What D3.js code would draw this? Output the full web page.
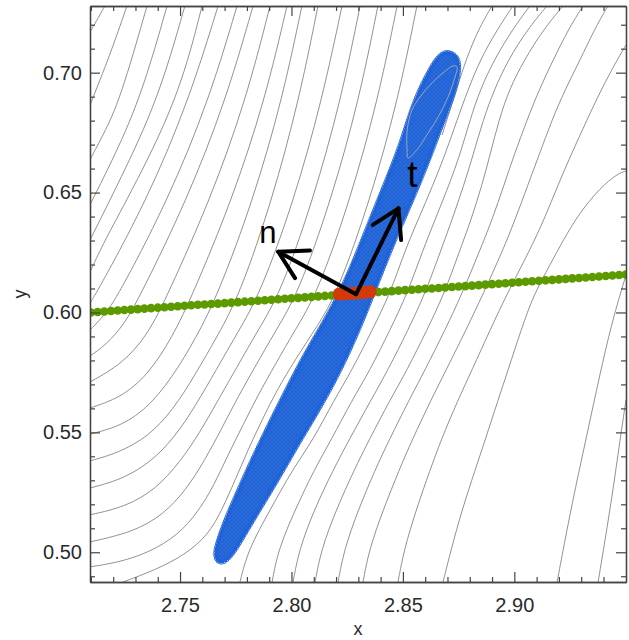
<!DOCTYPE html>
<html><head><meta charset="utf-8">
<script src="https://cdn.jsdelivr.net/npm/d3@7"></script>
<style>body{margin:0;background:#fff}svg{display:block}</style>
</head><body>
<svg id="chart" width="629" height="640"></svg>
<script>
// ---------------- data ----------------
const xMajor = [2.75, 2.80, 2.85, 2.90];
const xTickLabels = ["2.75", "2.80", "2.85", "2.90"];
const yMajor = [0.50, 0.55, 0.60, 0.65, 0.70];
const yTickLabels = ["0.50", "0.55", "0.60", "0.65", "0.70"];
const xMinor = [2.71,2.72,2.73,2.74,2.76,2.77,2.78,2.79,2.81,2.82,2.83,2.84,2.86,2.87,2.88,2.89,2.91,2.92,2.93,2.94];
const yMinor = [0.49,0.51,0.52,0.53,0.54,0.56,0.57,0.58,0.59,0.61,0.62,0.63,0.64,0.66,0.67,0.68,0.69,0.71,0.72];

// contour lines left of the band, [x, y] pairs
const contoursLeft = [
  [[2.7163,0.7279],[2.7123,0.7212],[2.7096,0.7170]],
  [[2.7262,0.7279],[2.7186,0.7074],[2.7096,0.6865]],
  [[2.7352,0.7279],[2.7231,0.6886],[2.7155,0.6740],[2.7096,0.6637]],
  [[2.7442,0.7279],[2.7321,0.6886],[2.7186,0.6615],[2.7096,0.6449]],
  [[2.7522,0.7279],[2.7401,0.6886],[2.7231,0.6553],[2.7096,0.6302]],
  [[2.7599,0.7279],[2.7491,0.6886],[2.7262,0.6469],[2.7163,0.6302],[2.7096,0.6169]],
  [[2.7671,0.7279],[2.7540,0.6886],[2.7352,0.6469],[2.7123,0.6077],[2.7096,0.6040]],
  [[2.7756,0.7279],[2.7630,0.6886],[2.7446,0.6469],[2.7226,0.6077],[2.7163,0.5990],[2.7096,0.5927]],
  [[2.7828,0.7279],[2.7706,0.6886],[2.7531,0.6469],[2.7325,0.6077],[2.7249,0.5948],[2.7163,0.5861],[2.7096,0.5819]],
  [[2.7904,0.7279],[2.7796,0.6886],[2.7635,0.6469],[2.7446,0.6077],[2.7356,0.5907],[2.7240,0.5785],[2.7096,0.5710]],
  [[2.7980,0.7279],[2.7881,0.6886],[2.7733,0.6469],[2.7558,0.6077],[2.7464,0.5894],[2.7356,0.5739],[2.7231,0.5643],[2.7096,0.5602]],
  [[2.8047,0.7279],[2.7958,0.6886],[2.7828,0.6469],[2.7671,0.6077],[2.7572,0.5894],[2.7464,0.5727],[2.7347,0.5594],[2.7222,0.5522],[2.7096,0.5493]],
  [[2.8119,0.7279],[2.8034,0.6886],[2.7913,0.6469],[2.7769,0.6077],[2.7671,0.5907],[2.7567,0.5739],[2.7469,0.5594],[2.7356,0.5481],[2.7222,0.5414],[2.7096,0.5381]],
  [[2.8227,0.7279],[2.8137,0.6886],[2.8012,0.6469],[2.7859,0.6077],[2.7760,0.5919],[2.7662,0.5760],[2.7572,0.5615],[2.7478,0.5481],[2.7365,0.5372],[2.7231,0.5301],[2.7096,0.5268]],
  [[2.8308,0.7279],[2.8222,0.6886],[2.8097,0.6469],[2.7949,0.6077],[2.7850,0.5927],[2.7756,0.5773],[2.7671,0.5635],[2.7590,0.5501],[2.7500,0.5376],[2.7388,0.5260],[2.7253,0.5189],[2.7096,0.5156]],
  [[2.8388,0.7279],[2.8303,0.6886],[2.8178,0.6469],[2.8029,0.6077],[2.7931,0.5927],[2.7841,0.5781],[2.7760,0.5648],[2.7688,0.5518],[2.7612,0.5385],[2.7527,0.5260],[2.7424,0.5156],[2.7289,0.5084],[2.7096,0.5043]],
  [[2.8474,0.7279],[2.8388,0.6886],[2.8263,0.6469],[2.8115,0.6077],[2.8016,0.5927],[2.7926,0.5781],[2.7850,0.5656],[2.7783,0.5531],[2.7715,0.5406],[2.7653,0.5280],[2.7581,0.5168],[2.7491,0.5072],[2.7365,0.5001],[2.7231,0.4959],[2.7096,0.4939]],
  [[2.8563,0.7279],[2.8478,0.6886],[2.8353,0.6469],[2.8204,0.6077],[2.8119,0.5948],[2.8016,0.5802],[2.7935,0.5677],[2.7868,0.5552],[2.7805,0.5427],[2.7747,0.5301],[2.7688,0.5176],[2.7626,0.5072],[2.7522,0.4989],[2.7388,0.4926],[2.7244,0.4876]]
];

// contour lines right of the band: x positions at shared y levels
const rightLevels = [0.4876,0.5010,0.5176,0.5343,0.5468,0.5635,0.5760,0.5927,0.6077,0.6261,0.6386,0.6532,0.6657,0.6803,0.6928,0.7053,0.7178,0.7279];
const rightX = [
  [2.7769,2.7805,2.7904,2.8003,2.8097,2.8191,2.8272,2.8362,2.8442,2.8510,2.8568,2.8635,2.8689,2.8743,2.8792,2.8846,2.8922,2.8994],
  [2.7913,2.7940,2.8016,2.8101,2.8178,2.8272,2.8353,2.8442,2.8519,2.8590,2.8644,2.8707,2.8756,2.8801,2.8846,2.8909,2.8990,2.9070],
  [2.8007,2.8034,2.8101,2.8187,2.8258,2.8357,2.8433,2.8523,2.8599,2.8671,2.8720,2.8774,2.8815,2.8860,2.8909,2.8972,2.9057,2.9147],
  [2.8106,2.8133,2.8200,2.8281,2.8348,2.8442,2.8519,2.8608,2.8685,2.8756,2.8806,2.8855,2.8891,2.8931,2.8976,2.9044,2.9129,2.9219],
  [2.8209,2.8236,2.8299,2.8375,2.8438,2.8528,2.8599,2.8689,2.8765,2.8846,2.8900,2.8954,2.8999,2.9057,2.9111,2.9174,2.9241,2.9308],
  [2.8321,2.8348,2.8411,2.8483,2.8541,2.8626,2.8694,2.8783,2.8860,2.8949,2.9003,2.9061,2.9111,2.9169,2.9227,2.9295,2.9358,2.9420]
];
const contoursOther = [
  [[2.8478,0.4876],[2.8505,0.5010],[2.8559,0.5176],[2.8622,0.5343],[2.8671,0.5468],[2.8747,0.5635],[2.8810,0.5760],[2.8891,0.5927],[2.8967,0.6077],[2.9070,0.6261],[2.9133,0.6386],[2.9196,0.6532],[2.9254,0.6657],[2.9326,0.6803],[2.9389,0.6928],[2.9461,0.7053],[2.9501,0.7115]],
  [[2.8680,0.4876],[2.8716,0.5010],[2.8765,0.5176],[2.8824,0.5343],[2.8869,0.5468],[2.8927,0.5635],[2.8972,0.5760],[2.9030,0.5927],[2.9088,0.6077],[2.9160,0.6198],[2.9219,0.6302],[2.9295,0.6419],[2.9385,0.6519],[2.9461,0.6578],[2.9501,0.6590]],
  [[2.9192,0.4876],[2.9227,0.5051],[2.9281,0.5301],[2.9340,0.5552],[2.9398,0.5802],[2.9447,0.5990],[2.9501,0.6156]],
  [[2.9376,0.4876],[2.9407,0.5051],[2.9443,0.5260],[2.9474,0.5468],[2.9501,0.5635]],
  [[2.8900,0.7279],[2.8837,0.7178],[2.8783,0.7053],[2.8747,0.6949],[2.8711,0.6844],[2.8676,0.6740]]
];

const minimumContour = [
  [2.8523,0.6644],[2.8563,0.6678],[2.8613,0.6748],[2.8658,0.6815],[2.8703,0.6899],[2.8734,0.6982],
  [2.8743,0.7024],[2.8725,0.7028],[2.8680,0.6999],[2.8631,0.6957],[2.8577,0.6899],[2.8541,0.6844],
  [2.8519,0.6761],[2.8519,0.6678]
];

const bandOutline = [
  [2.8711,0.7086],[2.8747,0.7061],[2.8752,0.7011],[2.8734,0.6936],[2.8703,0.6853],[2.8667,0.6769],
  [2.8622,0.6657],[2.8568,0.6532],[2.8510,0.6407],[2.8451,0.6281],[2.8397,0.6156],[2.8353,0.6052],
  [2.8308,0.5948],[2.8249,0.5823],[2.8182,0.5698],[2.8106,0.5573],[2.8029,0.5456],[2.7953,0.5331],
  [2.7872,0.5206],[2.7796,0.5089],[2.7747,0.5010],[2.7706,0.4964],[2.7675,0.4955],[2.7657,0.4985],
  [2.7666,0.5030],[2.7702,0.5126],[2.7751,0.5230],[2.7805,0.5343],[2.7868,0.5468],[2.7935,0.5594],
  [2.8003,0.5719],[2.8070,0.5836],[2.8133,0.5935],[2.8191,0.6031],[2.8240,0.6123],[2.8285,0.6219],
  [2.8330,0.6323],[2.8375,0.6428],[2.8424,0.6540],[2.8469,0.6644],[2.8505,0.6740],[2.8536,0.6832],
  [2.8572,0.6919],[2.8613,0.6995],[2.8649,0.7053],[2.8680,0.7082]
];

const greenX = [2.710,2.713,2.716,2.719,2.722,2.725,2.728,2.731,2.734,2.737,2.740,2.743,2.746,2.749,2.752,2.755,2.758,2.761,2.764,2.767,2.770,2.773,2.776,2.779,2.782,2.785,2.788,2.791,2.794,2.797,2.800,2.803,2.806,2.809,2.812,2.815,2.818,2.821,2.824,2.827,2.830,2.833,2.836,2.839,2.842,2.845,2.848,2.851,2.854,2.857,2.860,2.863,2.866,2.869,2.872,2.875,2.878,2.881,2.884,2.887,2.890,2.893,2.896,2.899,2.902,2.905,2.908,2.911,2.914,2.917,2.920,2.923,2.926,2.929,2.932,2.935,2.938,2.941,2.944,2.947,2.950];
const greenY = [0.6000,0.6002,0.6004,0.6006,0.6008,0.6010,0.6012,0.6014,0.6016,0.6018,0.6020,0.6022,0.6024,0.6026,0.6028,0.6030,0.6032,0.6033,0.6035,0.6037,0.6039,0.6041,0.6043,0.6045,0.6047,0.6049,0.6051,0.6053,0.6055,0.6057,0.6059,0.6061,0.6063,0.6065,0.6067,0.6069,0.6071,0.6073,0.6075,0.6077,0.6079,0.6081,0.6083,0.6085,0.6087,0.6089,0.6091,0.6093,0.6095,0.6097,0.6099,0.6100,0.6102,0.6104,0.6106,0.6108,0.6110,0.6112,0.6114,0.6116,0.6118,0.6120,0.6122,0.6124,0.6126,0.6128,0.6130,0.6132,0.6134,0.6136,0.6138,0.6140,0.6142,0.6144,0.6146,0.6148,0.6150,0.6152,0.6154,0.6156,0.6158];

const redX = [2.8215, 2.8243, 2.8271, 2.8299, 2.8327, 2.8353];
const redY = [0.6077, 0.6078, 0.6080, 0.6082, 0.6084, 0.6086];

const arrowOrigin = [2.8290, 0.6076];
const arrowTips = [[2.7941, 0.6253], [2.8480, 0.6434]];
const arrowBarbs = [
  [[2.8083, 0.6258], [2.8016, 0.6143]],
  [[2.8365, 0.6365], [2.8492, 0.6302]]
];
const arrowLabels = ["n", "t"];
const arrowLabelPos = [[2.7855, 0.6290], [2.8519, 0.6523]];
const arrowLabelSize = [31, 37];

// ---------------- chart ----------------
const m = {left: 90, right: 626, top: 6, bottom: 582};
const x = d3.scaleLinear().domain([2.7096, 2.9501]).range([m.left, m.right]);
const y = d3.scaleLinear().domain([0.4876, 0.7278]).range([m.bottom, m.top]);

const svg = d3.select("#chart");
const defs = svg.append("defs");
defs.append("clipPath").attr("id", "clip")
  .append("rect").attr("x", m.left).attr("y", m.top)
  .attr("width", m.right - m.left).attr("height", m.bottom - m.top);
const pat = defs.append("pattern").attr("id", "dots").attr("patternUnits", "userSpaceOnUse")
  .attr("width", 4).attr("height", 4);
pat.append("rect").attr("width", 4).attr("height", 4).attr("fill", "#1a5ed3");
pat.append("circle").attr("cx", 2).attr("cy", 2).attr("r", 1.5).attr("fill", "none")
  .attr("stroke", "#3b78e2").attr("stroke-width", 0.6);

const plot = svg.append("g").attr("clip-path", "url(#clip)");

const line = d3.line().x(d => x(d[0])).y(d => y(d[1])).curve(d3.curveBasis);
const rightLines = rightX.map(xs => xs.map((v, i) => [v, rightLevels[i]]));
const allContours = contoursLeft.concat(rightLines, contoursOther);

plot.append("g").selectAll("path").data(allContours).join("path")
  .attr("d", line).attr("fill", "none").attr("stroke", "#858585").attr("stroke-width", 0.9);

// band of accepted samples
const closedLine = d3.line().x(d => x(d[0])).y(d => y(d[1])).curve(d3.curveBasisClosed);
const bandPath = plot.append("path").datum(bandOutline).attr("d", closedLine)
  .attr("fill", "url(#dots)").attr("stroke", "#1a5ed3").attr("stroke-width", 3);
const node = bandPath.node();
const L = node.getTotalLength();
const edgePts = d3.range(0, L, 3).map(s => node.getPointAtLength(s));
plot.append("g").selectAll("circle").data(edgePts).join("circle")
  .attr("cx", p => p.x).attr("cy", p => p.y).attr("r", 2.4)
  .attr("fill", "none").attr("stroke", "#2467dc").attr("stroke-width", 1);

const loopLine = d3.line().x(d => x(d[0])).y(d => y(d[1])).curve(d3.curveCatmullRomClosed.alpha(0.5));
plot.append("path").datum(minimumContour).attr("d", loopLine)
  .attr("fill", "none").attr("stroke", "#9aa6bd").attr("stroke-width", 1);

// green line of points
const green = greenX.map((v, i) => [v, greenY[i]]);
plot.append("g").selectAll("circle").data(green).join("circle")
  .attr("cx", d => x(d[0])).attr("cy", d => y(d[1])).attr("r", 4.3)
  .attr("fill", "#5c9a00");

const red = redX.map((v, i) => [v, redY[i]]);
plot.append("g").selectAll("circle").data(red).join("circle")
  .attr("cx", d => x(d[0])).attr("cy", d => y(d[1])).attr("r", 6.6)
  .attr("fill", "#d23a0c");

// arrows
const ag = plot.append("g").attr("stroke", "#000").attr("stroke-width", 4)
  .attr("stroke-linecap", "round").attr("fill", "none");
arrowTips.forEach((tip, i) => {
  ag.append("line").attr("x1", x(arrowOrigin[0])).attr("y1", y(arrowOrigin[1]))
    .attr("x2", x(tip[0])).attr("y2", y(tip[1]));
  arrowBarbs[i].forEach(b => {
    ag.append("line").attr("x1", x(tip[0])).attr("y1", y(tip[1]))
      .attr("x2", x(b[0])).attr("y2", y(b[1]));
  });
});
plot.append("g").selectAll("text").data(arrowLabels).join("text")
  .attr("x", (d, i) => x(arrowLabelPos[i][0])).attr("y", (d, i) => y(arrowLabelPos[i][1]))
  .attr("font-family", "Liberation Sans, Arial, sans-serif").attr("font-size", (d, i) => arrowLabelSize[i])
  .attr("fill", "#000").text(d => d);

// axes
const font = "Liberation Sans, Arial, sans-serif";
function styleAxis(g) {
  g.selectAll("path.domain").attr("stroke", "#444").attr("stroke-width", 1.3);
  g.selectAll(".tick line").attr("stroke", "#444").attr("stroke-width", 1.2);
  g.selectAll("text").attr("font-family", font).attr("font-size", 20).attr("fill", "#2a2a2a");
}
svg.append("g").attr("transform", `translate(0,${m.bottom})`)
  .call(d3.axisBottom(x).tickValues(xMajor).tickSize(-10).tickSizeOuter(0).tickPadding(16)
    .tickFormat((d, i) => xTickLabels[i])).call(styleAxis);
svg.append("g").attr("transform", `translate(0,${m.bottom})`)
  .call(d3.axisBottom(x).tickValues(xMinor).tickSize(-5).tickSizeOuter(0).tickFormat("")).call(styleAxis);
svg.append("g").attr("transform", `translate(0,${m.top})`)
  .call(d3.axisTop(x).tickValues(xMajor).tickSize(-10).tickSizeOuter(0).tickFormat("")).call(styleAxis);
svg.append("g").attr("transform", `translate(0,${m.top})`)
  .call(d3.axisTop(x).tickValues(xMinor).tickSize(-5).tickSizeOuter(0).tickFormat("")).call(styleAxis);
svg.append("g").attr("transform", `translate(${m.left},0)`)
  .call(d3.axisLeft(y).tickValues(yMajor).tickSize(-10).tickSizeOuter(0).tickPadding(8)
    .tickFormat((d, i) => yTickLabels[i])).call(styleAxis);
svg.append("g").attr("transform", `translate(${m.left},0)`)
  .call(d3.axisLeft(y).tickValues(yMinor).tickSize(-5).tickSizeOuter(0).tickFormat("")).call(styleAxis);
svg.append("g").attr("transform", `translate(${m.right},0)`)
  .call(d3.axisRight(y).tickValues(yMajor).tickSize(-10).tickSizeOuter(0).tickFormat("")).call(styleAxis);
svg.append("g").attr("transform", `translate(${m.right},0)`)
  .call(d3.axisRight(y).tickValues(yMinor).tickSize(-5).tickSizeOuter(0).tickFormat("")).call(styleAxis);

svg.append("text").attr("x", 358).attr("y", 635)
  .attr("text-anchor", "middle").attr("font-family", font).attr("font-size", 18)
  .attr("fill", "#2a2a2a").text("x");
svg.append("text").attr("transform", `translate(26,${(m.top + m.bottom) / 2}) rotate(-90)`)
  .attr("text-anchor", "middle").attr("font-family", font).attr("font-size", 18)
  .attr("fill", "#2a2a2a").text("y");
</script>
</body></html>
